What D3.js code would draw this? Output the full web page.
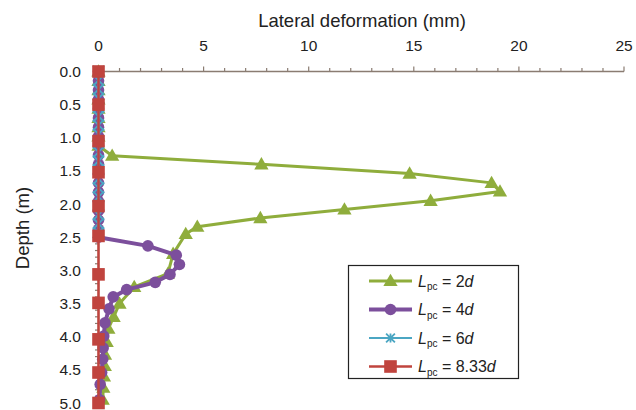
<!DOCTYPE html>
<html>
<head>
<meta charset="utf-8">
<script src="https://cdn.jsdelivr.net/npm/d3@7"></script>
<style>
  html, body { margin: 0; padding: 0; background: #fff; }
  svg { display: block; font-family: Arial, "Liberation Sans", sans-serif; }
</style>
</head>
<body>
<svg id="chart" width="636" height="410"></svg>
<script>
// Lateral deformation profiles along depth for four pile spacings
const seriesNames = ["2", "4", "6", "8.33"];

const depth2d = [0, 0.14, 0.28, 0.42, 0.56, 0.70, 0.84, 0.98, 1.12, 1.27, 1.40, 1.54, 1.68, 1.81, 1.95, 2.08, 2.21, 2.34, 2.45, 2.75, 3.05, 3.25, 3.50, 3.70, 3.88, 4.08, 4.27, 4.44, 4.60, 4.77, 4.95];
const defo2d  = [0, 0, 0, 0, 0, 0, 0, 0, 0, 0.65, 7.75, 14.8, 18.7, 19.1, 15.8, 11.7, 7.7, 4.7, 4.15, 3.55, 3.3, 1.7, 1.0, 0.72, 0.47, 0.39, 0.31, 0.3, 0.26, 0.23, 0.2];

const depth4d = [0, 0.14, 0.28, 0.42, 0.56, 0.70, 0.84, 0.98, 1.12, 1.26, 1.40, 1.54, 1.68, 1.82, 1.96, 2.10, 2.24, 2.38, 2.50, 2.63, 2.77, 2.91, 3.06, 3.18, 3.29, 3.40, 3.58, 3.79, 3.99, 4.17, 4.34, 4.54, 4.72, 4.95];
const defo4d  = [0, 0, 0, 0, 0, 0, 0, 0, 0, 0, 0, 0, 0, 0, 0, 0, 0, 0, 0, 2.35, 3.7, 3.85, 3.4, 2.7, 1.34, 0.7, 0.5, 0.31, 0.25, 0.22, 0.2, 0.15, 0.08, 0.05];

const depth6d = [0, 0.135, 0.27, 0.405, 0.54, 0.675, 0.81, 0.945, 1.08, 1.215, 1.35, 1.485, 1.62, 1.755, 1.89, 2.025, 2.16, 2.295, 2.43];
const defo6d  = [0, 0, 0, 0, 0, 0, 0, 0, 0, 0, 0, 0, 0, 0, 0, 0, 0, 0, 0];

const depth833d = [0, 0.5, 1.05, 1.52, 2.03, 2.48, 3.06, 3.49, 4.04, 4.54, 5.0];
const defo833d  = [0, 0, 0, 0, 0, 0, 0, 0, 0, 0, 0];

const xTicks = [0, 5, 10, 15, 20, 25];
const yTicks = [0, 0.5, 1.0, 1.5, 2.0, 2.5, 3.0, 3.5, 4.0, 4.5, 5.0];

const colors = ["#8fad3c", "#7c4f9c", "#4ba6c3", "#c0443e"];
const series = [
  { name: seriesNames[0], depth: depth2d,   value: defo2d,   color: colors[0], marker: "triangle", width: 3 },
  { name: seriesNames[1], depth: depth4d,   value: defo4d,   color: colors[1], marker: "circle",   width: 4 },
  { name: seriesNames[2], depth: depth6d,   value: defo6d,   color: colors[2], marker: "asterisk", width: 2 },
  { name: seriesNames[3], depth: depth833d, value: defo833d, color: colors[3], marker: "square",   width: 2.5 }
];

const svg = d3.select("#chart");
const x = d3.scaleLinear().domain([0, 25]).range([98.5, 624]);
const y = d3.scaleLinear().domain([0, 5]).range([71.5, 403]);
const axisColor = "#8a7c72";

// top x axis: minor ticks each 1 mm, major each 5 mm
const gx = svg.append("g");
gx.append("line").attr("x1", x(0)).attr("x2", x(25)).attr("y1", y(0)).attr("y2", y(0))
  .attr("stroke", axisColor).attr("stroke-width", 1.5);
gx.selectAll("line.minor").data(d3.range(1, 26)).join("line")
  .attr("x1", d => x(d)).attr("x2", d => x(d))
  .attr("y1", y(0)).attr("y2", d => y(0) - (d % 5 === 0 ? 5 : 3.5))
  .attr("stroke", axisColor).attr("stroke-width", 1.2);
gx.selectAll("text").data(xTicks).join("text")
  .attr("x", d => x(d)).attr("y", 50.5)
  .attr("text-anchor", "middle").attr("font-size", 15.5).attr("fill", "#222")
  .text(d => d);

// left y axis: ticks each 0.1 m
const gy = svg.append("g");
gy.append("line").attr("x1", x(0)).attr("x2", x(0)).attr("y1", y(0)).attr("y2", y(5))
  .attr("stroke", axisColor).attr("stroke-width", 1.5);
gy.selectAll("line.minor").data(d3.range(1, 50).map(i => i / 10)).join("line")
  .attr("x1", x(0) - 3.5).attr("x2", x(0))
  .attr("y1", d => y(d)).attr("y2", d => y(d))
  .attr("stroke", axisColor).attr("stroke-width", 1.2);
gy.selectAll("text").data(yTicks).join("text")
  .attr("x", 81).attr("y", d => y(d) + 5.5)
  .attr("text-anchor", "end").attr("font-size", 15.5).attr("fill", "#222")
  .text(d => d.toFixed(1));

// axis titles
svg.append("text").attr("x", 362).attr("y", 27).attr("text-anchor", "middle")
  .attr("font-size", 18.5).attr("fill", "#222").text("Lateral deformation (mm)");
svg.append("text").attr("transform", "translate(29,228) rotate(-90)")
  .attr("text-anchor", "middle").attr("font-size", 18.5).attr("fill", "#222").text("Depth (m)");

function drawMarker(g, kind, color, scale = 1) {
  if (kind === "triangle") {
    g.append("path").attr("d", d3.symbol(d3.symbolTriangle, 88)()).attr("fill", color).attr("transform", "translate(0,1)");
  } else if (kind === "circle") {
    g.append("circle").attr("r", 5.8).attr("fill", color);
  } else if (kind === "square") {
    g.append("rect").attr("x", -6.3).attr("y", -6.3).attr("width", 12.6).attr("height", 12.6).attr("fill", color);
  } else {
    const a = 5.5 * scale;
    g.append("path").attr("d", `M${-a},${-a}L${a},${a}M${-a},${a}L${a},${-a}M0,${-a}L0,${a}`)
      .attr("stroke", color).attr("stroke-width", 1.8).attr("fill", "none");
  }
}

const line = d3.line().x(d => x(d[0])).y(d => y(d[1]));
series.forEach(s => {
  const pts = s.value.map((v, i) => [v, s.depth[i]]);
  const g = svg.append("g");
  g.append("path").datum(pts).attr("d", line).attr("fill", "none")
    .attr("stroke", s.color).attr("stroke-width", s.width).attr("stroke-linejoin", "round");
  pts.forEach(p => {
    const m = g.append("g").attr("transform", `translate(${x(p[0])},${y(p[1])})`);
    drawMarker(m, s.marker, s.color);
  });
});

// legend
const lg = svg.append("g");
lg.append("rect").attr("x", 348.5).attr("y", 265.5).attr("width", 170).attr("height", 113)
  .attr("fill", "#fff").attr("stroke", "#222").attr("stroke-width", 1.2);
series.forEach((s, i) => {
  const cy = 281 + i * 28.5;
  lg.append("line").attr("x1", 369).attr("x2", 412).attr("y1", cy).attr("y2", cy)
    .attr("stroke", s.color).attr("stroke-width", s.width);
  const m = lg.append("g").attr("transform", `translate(390.5,${cy})`);
  drawMarker(m, s.marker, s.color, 0.8);
  const t = lg.append("text").attr("x", 418).attr("y", cy + 5.5).attr("font-size", 16).attr("fill", "#222");
  t.append("tspan").attr("font-style", "italic").text("L");
  t.append("tspan").attr("font-size", 10).attr("dy", 3.5).text("pc");
  t.append("tspan").attr("dy", -3.5).text(" = " + s.name);
  t.append("tspan").attr("font-style", "italic").text("d");
});
</script>
</body>
</html>
